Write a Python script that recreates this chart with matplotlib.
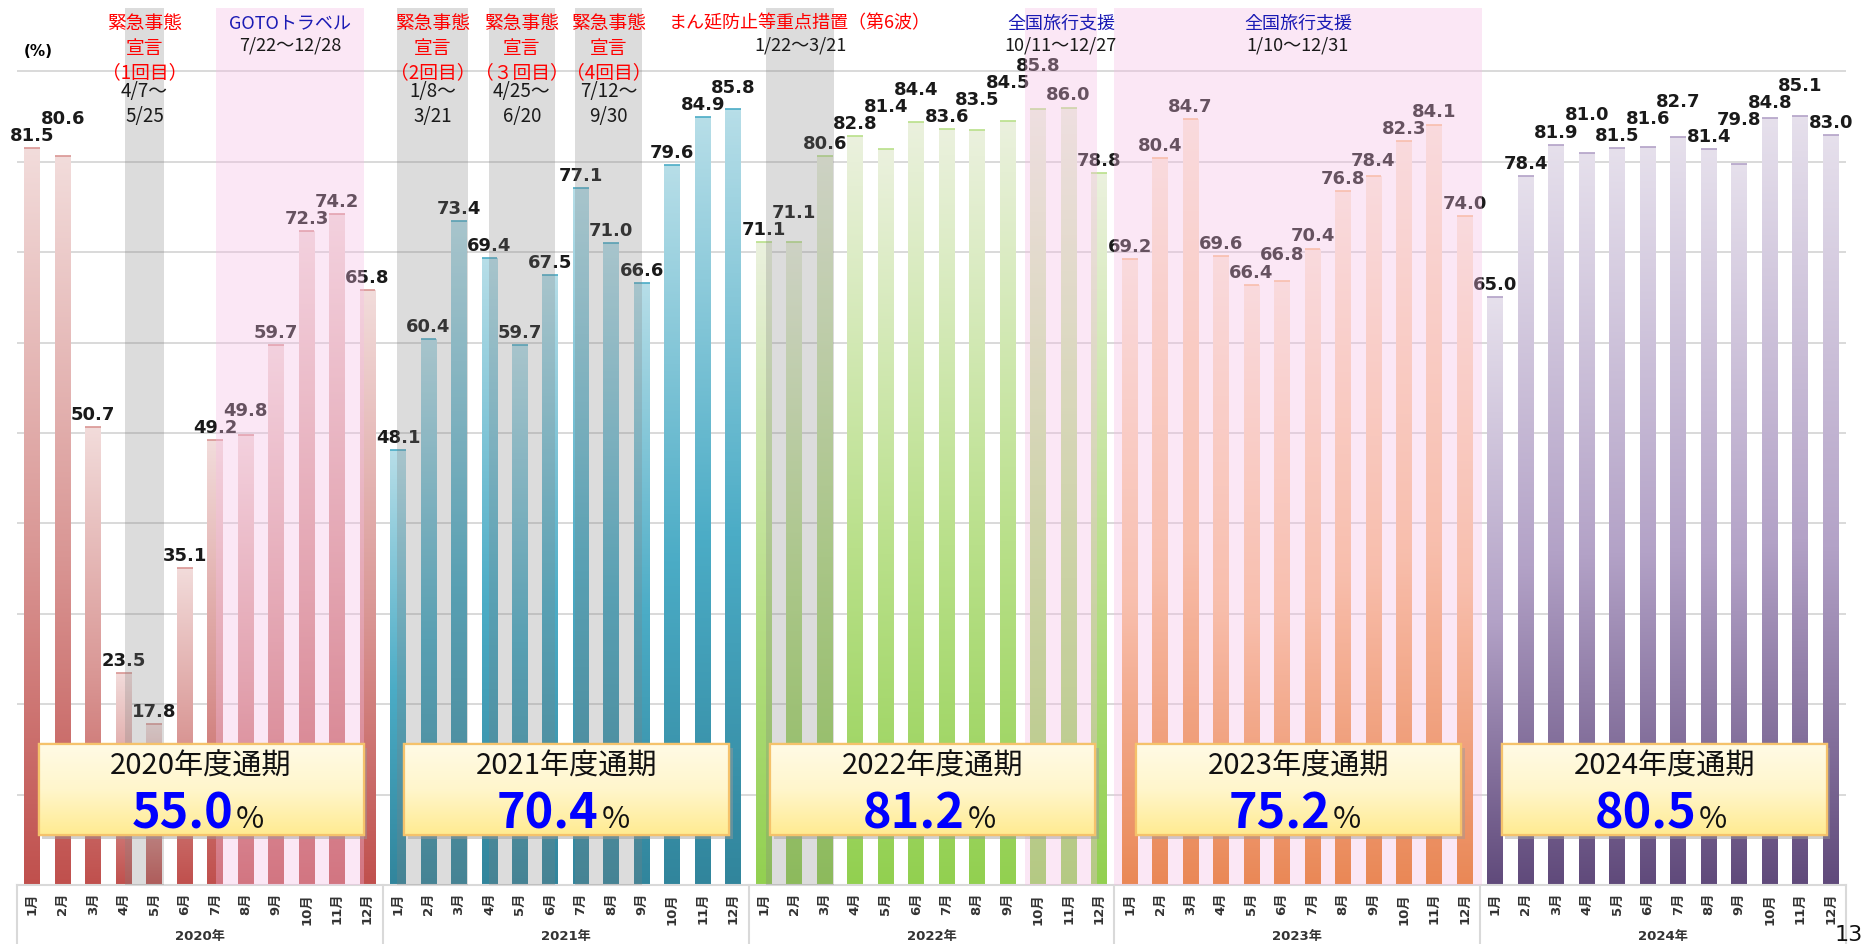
import numpy as np
import matplotlib.pyplot as plt
import matplotlib.transforms as mtransforms
from matplotlib.colors import LinearSegmentedColormap
from matplotlib.patches import Rectangle

plt.rcParams['font.family'] = ['DejaVu Sans', 'Noto Sans CJK JP']
JP = ['Noto Sans CJK JP', 'DejaVu Sans']

years = ['2020年', '2021年', '2022年', '2023年', '2024年']
months = ['1月', '2月', '3月', '4月', '5月', '6月',
          '7月', '8月', '9月', '10月', '11月', '12月']
rate_2020 = [81.5, 80.6, 50.7, 23.5, 17.8, 35.1, 49.2, 49.8, 59.7, 72.3, 74.2, 65.8]
rate_2021 = [48.1, 60.4, 73.4, 69.4, 59.7, 67.5, 77.1, 71.0, 66.6, 79.6, 84.9, 85.8]
rate_2022 = [71.1, 71.1, 80.6, 82.8, 81.4, 84.4, 83.6, 83.5, 84.5, 85.8, 86.0, 78.8]
rate_2023 = [69.2, 80.4, 84.7, 69.6, 66.4, 66.8, 70.4, 76.8, 78.4, 82.3, 84.1, 74.0]
rate_2024 = [65.0, 78.4, 81.9, 81.0, 81.5, 81.6, 82.7, 81.4, 79.8, 84.8, 85.1, 83.0]
rates = [rate_2020, rate_2021, rate_2022, rate_2023, rate_2024]

fiscal_titles = ['2020年度通期', '2021年度通期', '2022年度通期', '2023年度通期', '2024年度通期']
fiscal_rates = [55.0, 70.4, 81.2, 75.2, 80.5]

# gradient stops for each year's bars: bottom, middle, top
year_colors = [
    ('#c0504d', '#d99694', '#f2dcdb'),
    ('#31859c', '#4bacc6', '#b7dee8'),
    ('#92d050', '#b9e08a', '#ebf1de'),
    ('#e46c0a', '#fac090', '#fdeada'),
    ('#604a7b', '#b3a2c7', '#e6e0ec'),
]

# event periods (positions in month slots)
event_start = [3.06, 6.04, 11.98, 14.97, 17.8, 24.08, 32.57, 35.5]
event_end = [4.31, 10.87, 14.3, 17.16, 20.0, 26.3, 34.93, 47.55]
event_kind = ['gray', 'pink', 'gray', 'gray', 'gray', 'gray', 'pink', 'pink']
event_title = ['緊急事態\n宣言\n（1回目）', 'GOTOトラベル', '緊急事態\n宣言\n（2回目）',
               '緊急事態\n宣言\n（３回目）', '緊急事態\n宣言\n（4回目）',
               'まん延防止等重点措置（第6波）', '全国旅行支援', '全国旅行支援']
event_period = ['4/7〜\n5/25', '7/22〜12/28', '1/8〜\n3/21', '4/25〜\n6/20',
                '7/12〜\n9/30', '1/22〜3/21', '10/11〜12/27', '1/10〜12/31']

values = [v for yr in rates for v in yr]
x = np.arange(len(values))
bar_w = 0.52

fig = plt.figure(figsize=(18.64, 9.45), dpi=100)
ax = fig.add_axes([0.0091, 0.0624, 0.9812, 0.928])
ax.set_xlim(-0.5, len(values) - 0.5)
ax.set_ylim(0, 97)

# gridlines
ax.set_yticks(range(0, 100, 10))
ax.yaxis.grid(True, color='#d9d9d9', lw=1.4)
ax.set_axisbelow(True)
ax.tick_params(axis='y', length=0, labelleft=False)
for s in ['left', 'right', 'top']:
    ax.spines[s].set_visible(False)
ax.spines['bottom'].set_color('#d9d9d9')
ax.spines['bottom'].set_linewidth(1.5)

# bars with vertical gradient
grad = np.linspace(0, 1, 256).reshape(-1, 1)
bars = ax.bar(x, values, width=bar_w, color='none', lw=0, zorder=2)
for i, bar in enumerate(bars):
    c = year_colors[i // 12]
    cmap = LinearSegmentedColormap.from_list('g', [(0, c[0]), (0.45, c[1]), (1, c[2])])
    x0, y0 = bar.get_xy()
    im = ax.imshow(grad, extent=[x0, x0 + bar.get_width(), y0, y0 + bar.get_height()],
                   aspect='auto', origin='lower', cmap=cmap, zorder=2)
    im.set_clip_path(bar)
    ax.hlines(bar.get_height(), x0, x0 + bar.get_width(), colors=c[1], lw=1.2, zorder=2.5)
ax.set_xlim(-0.5, len(values) - 0.5)
ax.set_ylim(0, 97)

# value labels, lifted when they would collide with the neighbour's label
gap, lab_h = 0.45, 1.9
label_y = []
for v in values:
    ly = v + gap
    if label_y and abs(ly - label_y[-1]) < lab_h:
        ly = label_y[-1] + lab_h
    label_y.append(ly)
for xi, ly, v in zip(x, label_y, values):
    ax.text(xi, ly, f'{v:.1f}', ha='center', va='bottom', fontsize=13,
            fontweight='bold', color='#1a1a1a', family='DejaVu Sans', zorder=3)

# event shading and labels
top_tr = mtransforms.blended_transform_factory(ax.transData, ax.transAxes)
for s, e, kind, title, period in zip(event_start, event_end, event_kind, event_title, event_period):
    if kind == 'gray':
        ax.axvspan(s, e, color='#808080', alpha=0.27, lw=0, zorder=4)
    else:
        ax.axvspan(s, e, color='#f6bde5', alpha=0.35, lw=0, zorder=4)
    cx = (s + e) / 2
    tcolor = 'red' if '\n' in title or 'まん延' in title else '#1a1ab4'
    if '\n' in title:
        ax.text(cx, 0.9555, title, transform=top_tr, ha='center', va='center',
                fontsize=13.5, color=tcolor, family=JP, linespacing=1.2, zorder=5)
        ax.text(cx, 0.8917, period, transform=top_tr, ha='center', va='center',
                fontsize=13.5, color='#1a1a1a', family=JP, linespacing=1.2, zorder=5)
    else:
        ax.text(cx, 0.984, title, transform=top_tr, ha='center', va='center',
                fontsize=13, color=tcolor, family=JP, zorder=5)
        ax.text(cx, 0.958, period, transform=top_tr, ha='center', va='center',
                fontsize=13, color='#1a1a1a', family=JP, zorder=5)

# fiscal year summary boxes
box_grad = np.linspace(0, 1, 256).reshape(-1, 1)
box_cmap = LinearSegmentedColormap.from_list('box', ['#ffeb91', '#fff6cc', '#fffbe6'])
for k, (title, rate) in enumerate(zip(fiscal_titles, fiscal_rates)):
    bx0 = 12 * k - 0.5 + 0.71
    bw, by0, bh = 10.66, 5.5, 10.1
    shadow = Rectangle((bx0 + 0.12, by0 - 0.4), bw, bh, facecolor='#9a9a9a',
                       alpha=0.45, lw=0, zorder=6)
    ax.add_patch(shadow)
    box = Rectangle((bx0, by0), bw, bh, facecolor='#fff3b0', edgecolor='#f5c26b',
                    lw=1.6, zorder=7)
    ax.add_patch(box)
    im = ax.imshow(box_grad, extent=[bx0, bx0 + bw, by0, by0 + bh], aspect='auto',
                   origin='lower', cmap=box_cmap, zorder=7.5)
    im.set_clip_path(box)
    edge = Rectangle((bx0, by0), bw, bh, facecolor='none', edgecolor='#f5c26b',
                     lw=1.6, zorder=7.6)
    ax.add_patch(edge)
    cx = bx0 + bw / 2
    ax.text(cx, 13.2, title, ha='center', va='center', fontsize=21,
            color='#111111', family=JP, zorder=8)
    ax.annotate(f'{rate:.1f}', (cx, 6.4), xytext=(23, 0), textcoords='offset points',
                ha='right', va='baseline', fontsize=35, fontweight='bold',
                color='#0000ff', family=JP, zorder=8)
    ax.annotate('%', (cx, 6.4), xytext=(25, 0), textcoords='offset points',
                ha='left', va='baseline', fontsize=22, color='#111111',
                family=JP, zorder=8)
ax.set_xlim(-0.5, len(values) - 0.5)
ax.set_ylim(0, 97)

# month ticks and year groups
ax.set_xticks(x)
ax.set_xticklabels(months * len(years), rotation=90, va='top', ha='center',
                   fontsize=9.5, fontweight='bold', color='#333333')
ax.tick_params(axis='x', length=0, pad=5)
for k in range(len(years) + 1):
    b = 12 * k - 0.5
    ax.plot([b, b], [0, -0.07], transform=top_tr, color='#d9d9d9', lw=1.5, clip_on=False)
for k, yr in enumerate(years):
    ax.text(12 * k + 5.5, -0.057, yr, transform=top_tr, ha='center', va='center',
            fontsize=9.5, fontweight='bold', color='#333333')

fig.text(0.0204, 0.946, '(%)', ha='center', va='center', fontsize=11, fontweight='bold')
fig.text(0.9995, 0.004, '13', ha='right', va='baseline', fontsize=16, color='#111111')

fig.savefig('out.png', dpi=100)
